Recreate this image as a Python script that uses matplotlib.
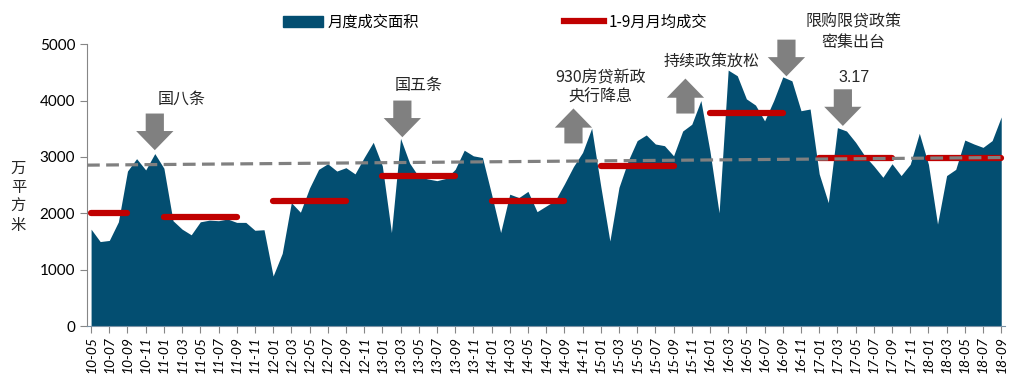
import numpy as np
import pandas as pd
import matplotlib
matplotlib.use('Agg')
import matplotlib.pyplot as plt
from matplotlib.patches import FancyArrow, Patch
from matplotlib.lines import Line2D

plt.rcParams['font.family'] = ['Noto Sans CJK SC', 'DejaVu Sans']

# monthly transaction area, 2010-05 .. 2018-09 (10k m2)
months = pd.period_range('2010-05', '2018-09', freq='M')
area = [
    1720, 1500, 1520, 1850, 2750, 2970, 2770, 3060,                          # 2010
    2800, 1870, 1720, 1620, 1850, 1880, 1870, 1900, 1840, 1840, 1700, 1710,  # 2011
    890, 1290, 2190, 2020, 2450, 2780, 2880, 2750, 2810, 2700, 2990, 3260,   # 2012
    2840, 1660, 3330, 2890, 2650, 2610, 2580, 2620, 2780, 3120, 3020, 2990,  # 2013
    2340, 1660, 2340, 2280, 2390, 2030, 2130, 2230, 2520, 2830, 3080, 3510,  # 2014
    2480, 1510, 2460, 2930, 3290, 3390, 3230, 3200, 3020, 3460, 3580, 4000,  # 2015
    3100, 2010, 4540, 4440, 4030, 3920, 3640, 4000, 4420, 4350, 3820, 3850,  # 2016
    2700, 2190, 3520, 3460, 3260, 3020, 2840, 2640, 2880, 2670, 2870, 3420,  # 2017
    2870, 1810, 2670, 2780, 3300, 3230, 3170, 3290, 3710,                    # 2018
]

# Jan-Sep monthly average per year
avg_years = [2010, 2011, 2012, 2013, 2014, 2015, 2016, 2017, 2018]
avg_values = [2000, 1940, 2220, 2665, 2220, 2840, 3780, 2990, 2985]

# trend line, values read at the two ends
trend_ends = [2855, 2990]

# policy notes: text, arrow base (month idx, value), direction, text pos
notes = [
    ('国八条', 7.0, 3770, 'down', 10.0, 4030),
    ('国五条', 34.2, 4000, 'down', 36.0, 4260),
    ('930房贷新政\n央行降息', 53.0, 3240, 'up', 56.0, 4230),
    ('持续政策放松', 65.3, 3770, 'up', 68.2, 4700),
    ('限购限贷政策\n密集出台', 76.4, 5080, 'down', 83.8, 5210),
    ('3.17', 82.6, 4200, 'down', 83.8, 4400),
]

blue = '#034E71'
red = '#C00000'
grey = '#808080'

x = np.arange(len(months))
labels = [m.strftime('%y-%m') for m in months]

fig = plt.figure(figsize=(10.21, 3.86), dpi=100)
ax = fig.add_axes([0.0852, 0.155, 0.899, 0.7306])

ax.fill_between(x, 0, area, color=blue, linewidth=0, zorder=1)

# trend (dashed)
ax.plot([-0.45, x[-1]], trend_ends, color=grey, lw=2.3, ls=(0, (4, 2)), zorder=3)

# 1-9 month averages
for yr, v in zip(avg_years, avg_values):
    idx = [i for i, m in enumerate(months) if m.year == yr and m.month <= 9]
    ax.plot([idx[0], idx[-1]], [v, v], color=red, lw=4.5,
            solid_capstyle='round', zorder=2)

# arrows and notes
for txt, axx, ayy, d, tx, ty in notes:
    dy = -650 if d == 'down' else 620
    ax.add_patch(FancyArrow(axx, ayy, 0, dy, width=2.0, head_width=4.1,
                            head_length=340, length_includes_head=True,
                            color=grey, lw=0, clip_on=False, zorder=4))
    fam = ['Liberation Sans'] if txt == '3.17' else ['Noto Sans CJK SC', 'DejaVu Sans']
    ax.text(tx, ty, txt, ha='center', va='center', fontsize=11.5,
            color='#262626', family=fam, linespacing=1.25, clip_on=False)

ax.set_xlim(-0.45, 100.4)
ax.set_ylim(0, 5000)
ax.set_yticks(range(0, 5001, 1000))
ax.set_xticks(x[::2])
ax.set_xticklabels(labels[::2], rotation=90, fontsize=10, family='Lato',
                   fontstyle='italic')
ax.tick_params(axis='y', labelsize=11, length=5, color='#868686')
for t in ax.get_yticklabels():
    t.set_family('Lato')
ax.tick_params(axis='x', length=5, color='#868686', pad=2)

for s in ['top', 'right']:
    ax.spines[s].set_visible(False)
ax.spines['left'].set_color('#868686')
ax.spines['bottom'].set_color('#7C93A6')

fig.text(0.018, 0.49, '万\n平\n方\n米', ha='center', va='center',
         fontsize=11, linespacing=1.15, color='#262626')

handles = [Patch(color=blue), Line2D([0], [0], color=red, lw=4.5)]
fig.legend(handles, ['月度成交面积', '1-9月月均成交'], loc='upper center',
           bbox_to_anchor=(0.485, 1.0), ncol=2, frameon=False, fontsize=11,
           handlelength=2.6, handleheight=0.8, columnspacing=9.5,
           handletextpad=0.3)

fig.savefig('out.png', dpi=100)
